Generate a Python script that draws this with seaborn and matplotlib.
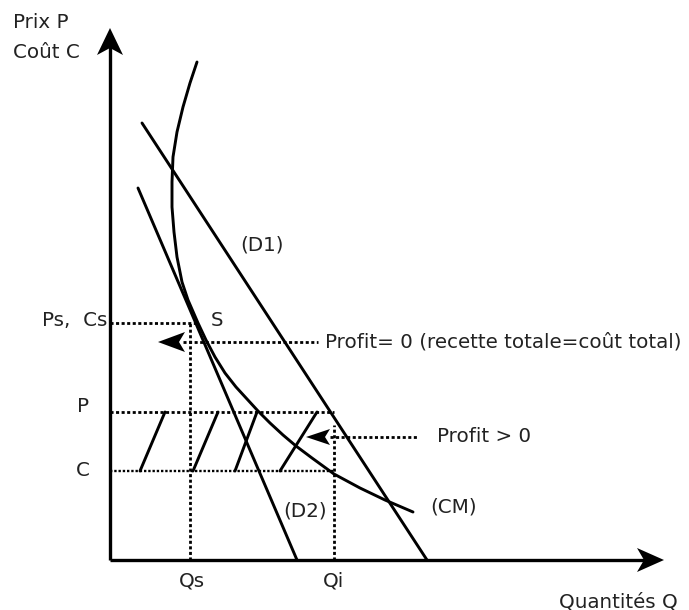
import numpy as np
import pandas as pd
import matplotlib
matplotlib.use("Agg")
import matplotlib.pyplot as plt
from matplotlib.patches import Polygon
import seaborn as sns

sns.set_theme(style="white")
plt.rcParams['font.family'] = ['DejaVu Sans']

# ---- data (chart units: Q to the right of the price axis, V above the quantity axis)
ORIGIN_X, ORIGIN_Y = 110, 560  # used only to convert read-off positions

def q(px):
    return np.asarray(px, dtype=float) - ORIGIN_X

def v(py):
    return ORIGIN_Y - np.asarray(py, dtype=float)

d1_q = q([142, 427]);            d1_v = v([123, 560])
d2_q = q([138, 297]);            d2_v = v([188, 560])
cm_q = q([197, 190, 183, 177, 173, 172, 172, 174, 177, 182, 188, 198, 206, 215,
          225, 236, 247, 258, 270, 283, 296, 312, 334, 360, 385, 413])
cm_v = v([62, 83, 107, 132, 157, 182, 207, 232, 257, 282, 300, 323, 340, 357,
          373, 387, 399, 411, 423, 435, 446, 458, 474, 488, 500, 512])

Qs, Qi = q(190), q(334)
Ps, P, C = v(323), v(412), v(471)
profit0_level, profitpos_level = v(342), v(437)

hatch_bottom_q = q([140, 193, 235, 280])
hatch_top_q = q([165, 218, 257, 317])

x_axis_end, y_axis_end = q(664), v(28)

fig = plt.figure(figsize=(6.89, 6.10), dpi=100)
ax = fig.add_axes([0, 0, 1, 1])
ax.set_xlim(q(0), q(689))
ax.set_ylim(v(610), v(0))
ax.axis('off')

LW = 2.1
DOT = dict(color='black', lw=2.0, linestyle=(0, (1.1, 0.9)), dash_capstyle='butt')

# curves
for xs, ys in [(d1_q, d1_v), (d2_q, d2_v), (cm_q, cm_v)]:
    sns.lineplot(x=xs, y=ys, sort=False, estimator=None, errorbar=None,
                 color='black', lw=LW, ax=ax)

# hatches
for b, t in zip(hatch_bottom_q, hatch_top_q):
    ax.plot([b, t], [C, P], color='black', lw=LW)

# dotted guides
ax.plot([0, q(196)], [Ps, Ps], **DOT)
ax.plot([Qs, Qs], [0, Ps], **DOT)
ax.plot([0, Qi], [P, P], **DOT)
ax.plot([0, Qi], [C, C], color='black', lw=1.7, linestyle=(0, (1.0, 0.8)))
ax.plot([Qi, Qi], [0, v(425)], **DOT)
ax.plot([q(183), q(318)], [profit0_level] * 2, **DOT)
ax.plot([q(330), q(418)], [profitpos_level] * 2, **DOT)

# axes
ax.plot([0, 0], [0, y_axis_end - 10], color='black', lw=2.4, solid_capstyle='butt')
ax.plot([0, x_axis_end - 10], [0, 0], color='black', lw=2.4, solid_capstyle='butt')


def arrow_head(tip, direction, length, half_w, notch):
    tx, ty = tip
    dx, dy = direction
    px, py = -dy, dx
    bx, by = tx - dx * length, ty - dy * length
    nx, ny = tx - dx * (length - notch), ty - dy * (length - notch)
    pts = [(tx, ty), (bx + px * half_w, by + py * half_w), (nx, ny),
           (bx - px * half_w, by - py * half_w)]
    ax.add_patch(Polygon(pts, closed=True, color='black', lw=0))


arrow_head((0, y_axis_end), (0, 1), 27, 13, 7)
arrow_head((x_axis_end, 0), (1, 0), 27, 12, 7)
arrow_head((q(158), profit0_level), (-1, 0), 27, 10, 6)
arrow_head((q(306), profitpos_level), (-1, 0), 24, 8, 5)

TXT = dict(color='#222222', fontsize=14.3)
ax.text(q(13), v(23), 'Prix P', ha='left', va='center', **TXT)
ax.text(q(13), v(52), 'Coût C', ha='left', va='center', **TXT)
ax.text(q(107), v(321), 'Ps,  Cs', ha='right', va='center', **TXT)
ax.text(q(83), v(406), 'P', ha='center', va='center', **TXT)
ax.text(q(83), v(470), 'C', ha='center', va='center', **TXT)
ax.text(q(217), v(320), 'S', ha='center', va='center', **TXT)
ax.text(q(262), v(245), '(D1)', ha='center', va='center', **TXT)
ax.text(q(305), v(511), '(D2)', ha='center', va='center', **TXT)
ax.text(q(454), v(507), '(CM)', ha='center', va='center', **TXT)
ax.text(q(325), v(342), 'Profit= 0 (recette totale=coût total)', ha='left', va='center', **TXT)
ax.text(q(437), v(437), 'Profit > 0', ha='left', va='center', **TXT)
ax.text(q(192), v(581), 'Qs', ha='center', va='center', **TXT)
ax.text(q(334), v(581), 'Qi', ha='center', va='center', **TXT)
ax.text(q(678), v(602), 'Quantités Q', ha='right', va='center', **TXT)

fig.savefig('out.png', dpi=100)
